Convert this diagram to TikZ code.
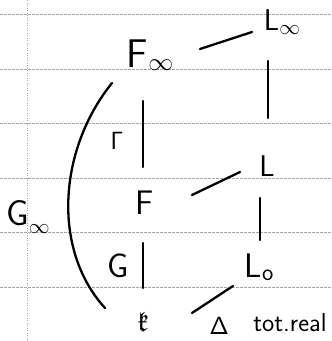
\documentclass[tikz,border=0pt]{standalone}
\usepackage{amssymb}
\usetikzlibrary{calc}
\begin{document}
\begin{tikzpicture}[x=1pt,y=-1pt,
  hw/.style={inner sep=0pt, font=\sffamily\fontsize{#1}{#1}\selectfont},
  hw/.default=34,
  stroke/.style={line width=2.3pt, line cap=round},
  rule/.style={gray!70, line width=0.6pt, dash pattern=on 3pt off 1pt}]
\useasboundingbox (0,0) rectangle (332,341);
% ruled paper
\foreach \yy in {14,69,123,178,232,287}
  \draw[rule] (0,\yy) -- (332,\yy);
\draw[gray!70, line width=0.6pt, dash pattern=on 1pt off 1.5pt] (27,0) -- (27,341);
% labels
\node[hw=40] (Finf) at (150,55) {F\raisebox{-0.2ex}{\fontsize{26}{26}\selectfont$\infty$}};
\node[hw=30] (Linf) at (282,22) {L\raisebox{-0.3ex}{\fontsize{22}{22}\selectfont$\infty$}};
\node[hw=34] (Gam) at (117,141) {$\mathsf{\Gamma}$};
\node[hw=30] (L) at (267,166) {L};
\node[hw=34] (F) at (145,203) {F};
\node[hw=36] (Ginf) at (28,217) {G\raisebox{-0.5ex}{\fontsize{20}{20}\selectfont$\infty$}};
\node[hw=34] (G) at (118,266) {G};
\node[hw=34] (Lo) at (259,267) {L\raisebox{-0.2ex}{\fontsize{24}{24}\selectfont o}};
\node[hw=28] (k) at (143,322) {$\mathfrak{k}$};
\node[hw=28] (Del) at (219,326) {$\mathsf{\Delta}$};
\node[hw=26] (tr) at (290,323) {tot.real};
% connectors
\draw[stroke] ([shift={(50,-6)}]Finf.center) -- ([shift={(-30,10)}]Linf.center);
\draw[stroke] ([shift={(-14,39)}]Linf.center) -- ([shift={(1,-48)}]L.center);
\draw[stroke] ([shift={(-7,46)}]Finf.center) -- ([shift={(-2,-36)}]F.center);
\draw[stroke] ([shift={(47,-8)}]F.center) -- ([shift={(-27,6)}]L.center);
\draw[stroke] ([shift={(-7,32)}]L.center) -- ([shift={(1,-27)}]Lo.center);
\draw[stroke] ([shift={(-2,40)}]F.center) -- ([shift={(0,-34)}]k.center);
\draw[stroke] ([shift={(49,-9)}]k.center) -- ([shift={(-26,19)}]Lo.center);
\draw[stroke] ([shift={(-38,28)}]Finf.center) .. controls (58,150) and (52,250) .. ([shift={(-38,-14)}]k.center);
\end{tikzpicture}
\end{document}
